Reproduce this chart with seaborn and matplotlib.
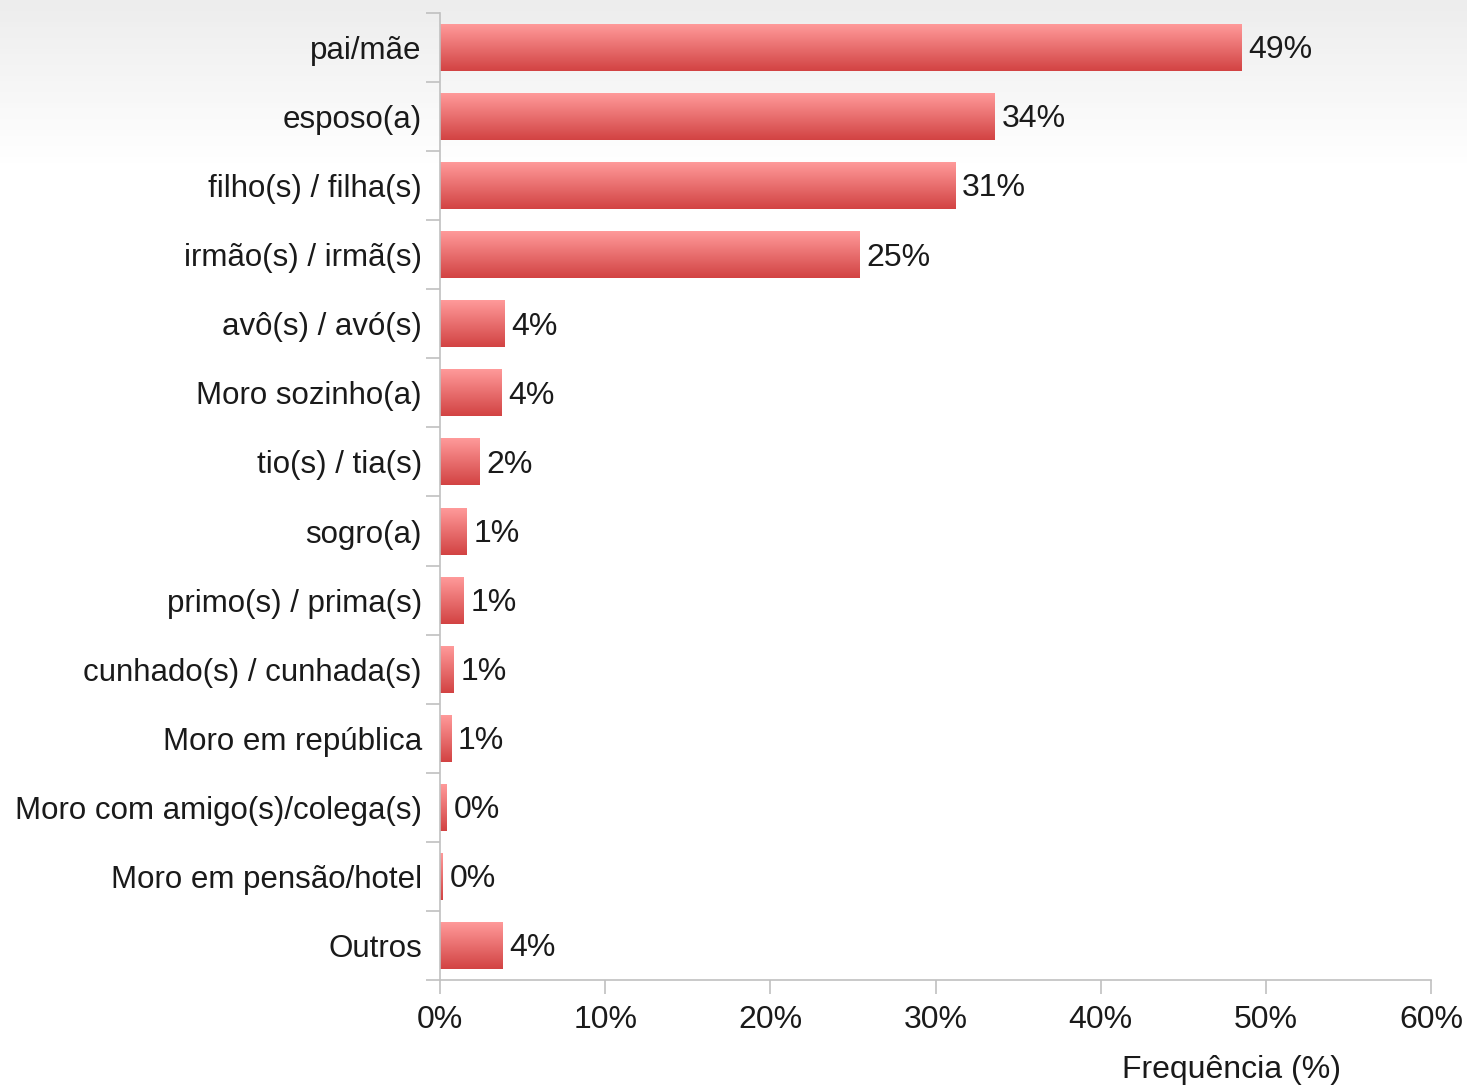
import numpy as np
import pandas as pd
import matplotlib
matplotlib.use('Agg')
import matplotlib.pyplot as plt
import seaborn as sns
from matplotlib.colors import LinearSegmentedColormap

# data
categorias = ["pai/mãe", "esposo(a)", "filho(s) / filha(s)", "irmão(s) / irmã(s)",
              "avô(s) / avó(s)", "Moro sozinho(a)", "tio(s) / tia(s)", "sogro(a)",
              "primo(s) / prima(s)", "cunhado(s) / cunhada(s)", "Moro em república",
              "Moro com amigo(s)/colega(s)", "Moro em pensão/hotel", "Outros"]
frequencia = [48.5, 33.6, 31.2, 25.4, 3.9, 3.7, 2.4, 1.6, 1.45, 0.8, 0.67, 0.42, 0.18, 3.8]
rotulos = ["49%", "34%", "31%", "25%", "4%", "4%", "2%", "1%", "1%", "1%", "1%", "0%", "0%", "4%"]
xticks = [0, 10, 20, 30, 40, 50, 60]

df = pd.DataFrame({"cat": categorias, "freq": frequencia})

sns.set_theme(style="white")
plt.rcParams['font.family'] = ['Liberation Sans', 'DejaVu Sans']

fig = plt.figure(figsize=(14.67, 10.85), dpi=100)

# background gradient (light gray top -> white)
bg = fig.add_axes([0, 0, 1, 1], zorder=-10)
grad = np.ones((200, 2))
ramp = np.linspace(0.93, 1.0, 31)
grad[:31, :] = ramp[:, None]
bg.imshow(np.dstack([grad] * 3), aspect='auto', extent=[0, 1, 0, 1], origin='upper')
bg.set_axis_off()

W, H = 1467, 1085
ax = fig.add_axes([440 / W, 1 - 980 / H, (1431 - 440) / W, (980 - 13) / H])
ax.patch.set_alpha(0)

sns.barplot(data=df, x="freq", y="cat", orient="h", ax=ax, width=0.68,
            color="#e06060", saturation=1)

cmap = LinearSegmentedColormap.from_list("barra", ["#ff9a9a", "#d24343"])
g = np.linspace(0, 1, 100)[:, None]
for p, lab in zip(ax.patches, rotulos):
    x0, y0 = p.get_x(), p.get_y()
    w, h = p.get_width(), p.get_height()
    p.set_alpha(0)
    ax.imshow(g, cmap=cmap, aspect='auto', extent=[x0, x0 + w, y0 + h, y0],
              origin='upper', zorder=2)
    ax.annotate(lab, (x0 + w, y0 + h / 2), xytext=(5, -2), textcoords='offset points',
                va='center', ha='left', fontsize=23, color='#1a1a1a')

ax.set_xlim(0, 60)
ax.set_ylim(len(categorias) - 0.5, -0.5)
ax.set_xticks(xticks)
ax.set_xticklabels([f"{t}%" for t in xticks])
ax.set_yticks(np.arange(len(categorias)))
ax.set_yticklabels(categorias)
ax.set_yticks(np.arange(len(categorias) + 1) - 0.5, minor=True)

spine_col = '#c0c0c0'
for s in ['top', 'right']:
    ax.spines[s].set_visible(False)
for s in ['left', 'bottom']:
    ax.spines[s].set_color(spine_col)
    ax.spines[s].set_linewidth(1.2)

ax.tick_params(axis='y', which='major', length=0, pad=13, labelsize=22.5, labelcolor='#1a1a1a')
ax.tick_params(axis='y', which='minor', left=True, length=10, width=1.2, color=spine_col)
ax.tick_params(axis='x', which='major', bottom=True, length=10, width=1.2, color=spine_col,
               pad=8, labelsize=23, labelcolor='#1a1a1a')

ax.set_ylabel("")
ax.set_xlabel("Frequência (%)", fontsize=23, color='#1a1a1a')
ax.xaxis.set_label_coords((1232 - 440) / (1431 - 440), -0.078)

fig.savefig("out.png", dpi=100)
